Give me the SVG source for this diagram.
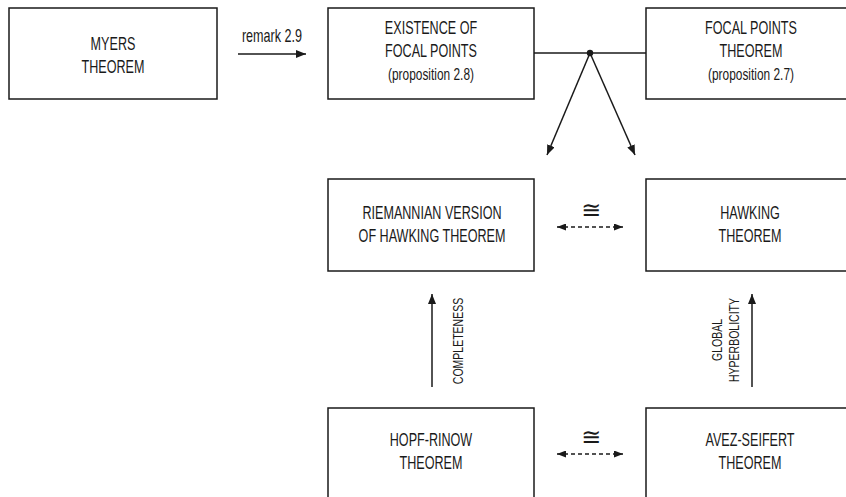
<svg xmlns="http://www.w3.org/2000/svg" width="846" height="497" viewBox="0 0 846 497">
<style>
.box{fill:#fff;stroke:#1a1a1a;stroke-width:1.5}
.t{font-family:"Liberation Sans",Arial,sans-serif;font-size:18px;fill:#1a1a1a;text-anchor:middle}
.s{font-size:17px}
.v{font-size:15px}
.ln{stroke:#1a1a1a;stroke-width:1.5;fill:none}
.dl{stroke:#1a1a1a;stroke-width:1.3;fill:none;stroke-dasharray:4 3}
.cong{font-family:"DejaVu Sans",sans-serif;font-size:24px;fill:#1a1a1a;text-anchor:middle}
</style>
<defs>
<marker id="ah" viewBox="0 0 10 8" refX="10" refY="4" markerWidth="10" markerHeight="8" markerUnits="userSpaceOnUse" orient="auto">
<path d="M0,0 L10,4 L0,8 Z" fill="#1a1a1a"/>
</marker>
<marker id="as" viewBox="0 0 9 7" refX="9" refY="3.5" markerWidth="9" markerHeight="7" markerUnits="userSpaceOnUse" orient="auto-start-reverse">
<path d="M0,0 L9,3.5 L0,7 Z" fill="#1a1a1a"/>
</marker>
</defs>
<rect width="846" height="497" fill="#fff"/>

<g id="myers">
<rect class="box" x="9" y="8" width="208" height="91"/>
<g transform="translate(113,0) scale(0.7,1)">
<text class="t" x="0" y="50">MYERS</text>
<text class="t" x="0" y="73">THEOREM</text>
</g>
</g>

<g id="existence">
<rect class="box" x="328" y="8" width="206" height="91"/>
<g transform="translate(431,0) scale(0.7,1)">
<text class="t" x="0" y="34">EXISTENCE OF</text>
<text class="t" x="0" y="57">FOCAL POINTS</text>
<text class="t s" x="0" y="80">(proposition 2.8)</text>
</g>
</g>

<g id="focal">
<rect class="box" x="646" y="8" width="210" height="91"/>
<g transform="translate(751,0) scale(0.7,1)">
<text class="t" x="0" y="34">FOCAL POINTS</text>
<text class="t" x="0" y="57">THEOREM</text>
<text class="t s" x="0" y="80">(proposition 2.7)</text>
</g>
</g>

<g id="riemannian">
<rect class="box" x="328" y="179" width="206" height="92"/>
<g transform="translate(432,0) scale(0.7,1)">
<text class="t" x="0" y="219">RIEMANNIAN VERSION</text>
<text class="t" x="0" y="242">OF HAWKING THEOREM</text>
</g>
</g>

<g id="hawking">
<rect class="box" x="646" y="179" width="210" height="92"/>
<g transform="translate(750,0) scale(0.7,1)">
<text class="t" x="0" y="219">HAWKING</text>
<text class="t" x="0" y="242">THEOREM</text>
</g>
</g>

<g id="hopf">
<rect class="box" x="328" y="408" width="206" height="100"/>
<g transform="translate(431,0) scale(0.7,1)">
<text class="t" x="0" y="446">HOPF-RINOW</text>
<text class="t" x="0" y="469">THEOREM</text>
</g>
</g>

<g id="avez">
<rect class="box" x="646" y="408" width="210" height="100"/>
<g transform="translate(750,0) scale(0.7,1)">
<text class="t" x="0" y="446">AVEZ-SEIFERT</text>
<text class="t" x="0" y="469">THEOREM</text>
</g>
</g>

<g id="connectors">
<line class="ln" x1="238" y1="54" x2="306" y2="54" marker-end="url(#ah)"/>
<g transform="translate(272,0) scale(0.7,1)"><text class="t" x="0" y="42">remark 2.9</text></g>

<line class="ln" x1="534" y1="53" x2="646" y2="53"/>
<circle cx="590" cy="53" r="3.2" fill="#1a1a1a"/>
<line class="ln" x1="590" y1="53" x2="547" y2="155" marker-end="url(#ah)"/>
<line class="ln" x1="590" y1="53" x2="635" y2="155" marker-end="url(#ah)"/>

<line class="dl" x1="557" y1="227" x2="623" y2="227" marker-start="url(#as)" marker-end="url(#as)"/>
<text class="cong" x="591" y="218">≅</text>

<line class="dl" x1="557" y1="454" x2="623" y2="454" marker-start="url(#as)" marker-end="url(#as)"/>
<text class="cong" x="591" y="445">≅</text>

<line class="ln" x1="432" y1="387" x2="432" y2="294" marker-end="url(#ah)"/>
<g transform="translate(463,341) rotate(-90) scale(0.7,1)"><text class="t v" x="0" y="0">COMPLETENESS</text></g>

<line class="ln" x1="752" y1="387" x2="752" y2="294" marker-end="url(#ah)"/>
<g transform="translate(722,340) rotate(-90) scale(0.7,1)"><text class="t v" x="0" y="0">GLOBAL</text></g>
<g transform="translate(739,340) rotate(-90) scale(0.7,1)"><text class="t v" x="0" y="0">HYPERBOLICITY</text></g>
</g>
</svg>
